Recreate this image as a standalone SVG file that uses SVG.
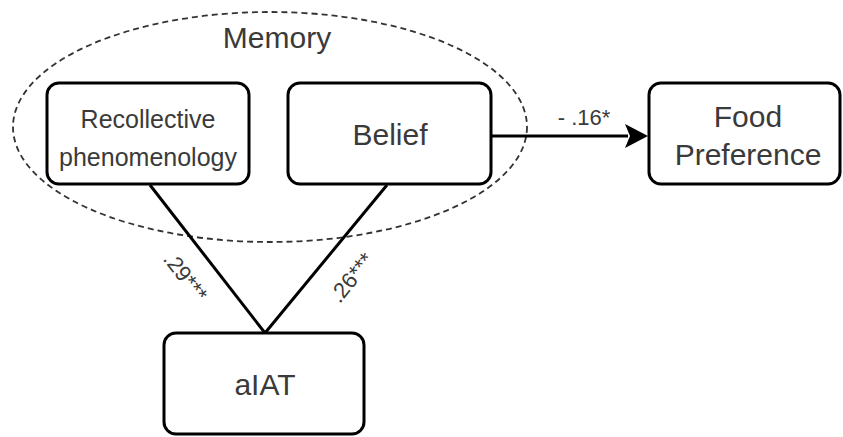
<svg xmlns="http://www.w3.org/2000/svg" width="843" height="437" viewBox="0 0 843 437">
<style>
.box{fill:#fff;stroke:#000;stroke-width:3}
.t{font-family:"Liberation Sans",Arial,sans-serif;fill:#3a3a3a;text-anchor:middle}
.edge{stroke:#000;stroke-width:3;fill:none}
</style>
<rect width="843" height="437" fill="#fff"/>
<g id="memory">
<ellipse cx="270" cy="127" rx="257" ry="115" fill="none" stroke="#333" stroke-width="1.8" stroke-dasharray="6 4"/>
<text class="t" x="277" y="48" font-size="30">Memory</text>
</g>
<g id="connectors">
<line class="edge" x1="150" y1="185" x2="265" y2="333"/>
<line class="edge" x1="387" y1="185" x2="265" y2="333"/>
<path d="M492,136 L628,136" class="edge"/>
<path d="M625,124 L648,136 L625,148 L630,136 Z" fill="#000"/>
<text class="t" x="584" y="125" font-size="22">- .16*</text>
<text class="t" x="185" y="284" font-size="22" transform="rotate(52 185 277)">.29***</text>
<text class="t" x="352" y="285" font-size="22" transform="rotate(-51 352 278)">.26***</text>
</g>
<g id="recollective">
<rect class="box" x="47" y="83" width="202" height="101" rx="12"/>
<text class="t" x="148" y="128" font-size="25">Recollective</text>
<text class="t" x="148" y="166" font-size="25">phenomenology</text>
</g>
<g id="belief">
<rect class="box" x="288" y="83" width="203" height="101" rx="12"/>
<text class="t" x="390" y="145" font-size="30">Belief</text>
</g>
<g id="food">
<rect class="box" x="649" y="83" width="191" height="101" rx="12"/>
<text class="t" x="748" y="127" font-size="30">Food</text>
<text class="t" x="748" y="165" font-size="30">Preference</text>
</g>
<g id="aiat">
<rect class="box" x="164" y="333" width="200" height="101" rx="12"/>
<text class="t" x="265" y="395" font-size="30">aIAT</text>
</g>
</svg>
